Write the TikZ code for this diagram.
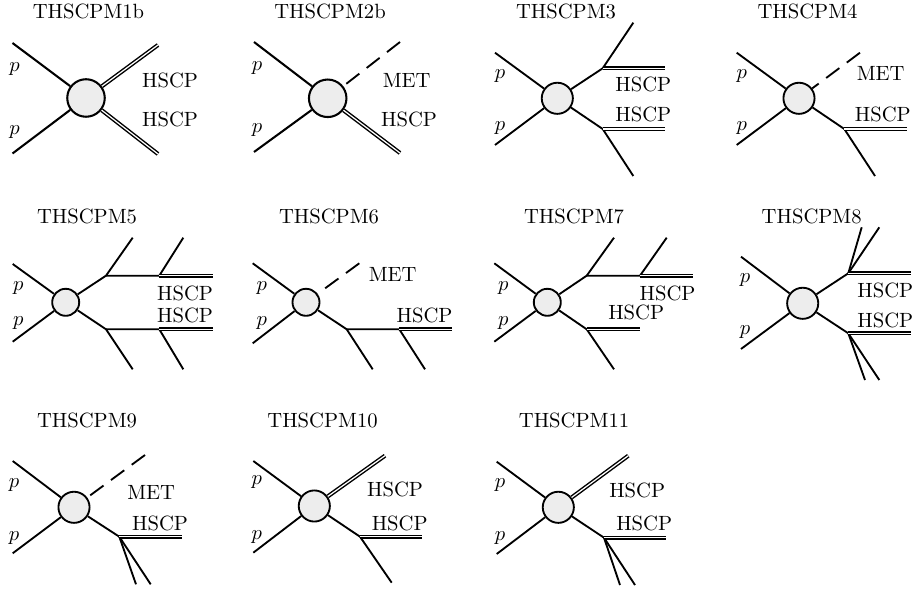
\documentclass[tikz,border=0pt]{standalone}
\begin{document}
\begin{tikzpicture}[x=0.485pt,y=-0.485pt,
  plain/.style={line width=0.9pt},
  dbl/.style={double, line width=0.7pt, double distance=0.6pt},
  met/.style={line width=0.9pt, dash pattern=on 8pt off 4.5pt},
  blob/.style={circle, draw, line width=0.9pt, fill=gray!14, inner sep=0pt},
  blobL/.style={blob, minimum size=18.2pt, line width=1pt},
  blobM/.style={blob, minimum size=15.1pt},
  blobS/.style={blob, minimum size=13.1pt},
  lbl/.style={inner sep=0pt, anchor=center}]
\useasboundingbox (0,0) rectangle (919,594);

% ---------- THSCPM1b
\node[lbl] (t1) at (88.5,11) {THSCPM1b};
\node[blobL] (b1) at (86,98) {};
\coordinate (b1pa) at (12.5,43);
\coordinate (b1pb) at (12.5,153.5);
\coordinate (b1ha) at (158,45);
\coordinate (b1hb) at (158,154);
\draw[plain, line width=1pt] (b1pa) -- (b1);
\draw[plain, line width=1pt] (b1pb) -- (b1);
\draw[dbl] (b1) -- (b1ha);
\draw[dbl] (b1) -- (b1hb);
\node[lbl] (l1a) at (14.5,69) {$p$};
\node[lbl] (l1b) at (14.5,132) {$p$};
\node[lbl] (l1c) at (170,80) {HSCP};
\node[lbl] (l1d) at (170,119) {HSCP};

% ---------- THSCPM2b
\node[lbl] (t2) at (330,11) {THSCPM2b};
\node[blobL] (b2) at (327.7,98.3) {};
\coordinate (b2pa) at (254,42);
\coordinate (b2pb) at (254,152);
\coordinate (b2m) at (400,42);
\coordinate (b2h) at (400,153);
\draw[plain, line width=1pt] (b2pa) -- (b2);
\draw[plain, line width=1pt] (b2pb) -- (b2);
\draw[met] (b2m) -- (b2);
\draw[dbl] (b2) -- (b2h);
\node[lbl] (l2a) at (257,68) {$p$};
\node[lbl] (l2b) at (257,130) {$p$};
\node[lbl] (l2c) at (406.7,80) {MET};
\node[lbl] (l2d) at (409,119) {HSCP};

% ---------- THSCPM3
\node[lbl] (t3) at (566,11) {THSCPM3};
\node[blobM] (b3) at (557.3,98.3) {};
\coordinate (b3pa) at (495,52.7);
\coordinate (b3pb) at (495,145);
\coordinate (b3va) at (602.7,68.3);
\coordinate (b3vb) at (602.7,129);
\coordinate (b3qa) at (633.3,22.7);
\coordinate (b3qb) at (633.3,176);
\coordinate (b3ha) at (665,68.3);
\coordinate (b3hb) at (665,129);
\draw[plain] (b3pa) -- (b3);
\draw[plain] (b3pb) -- (b3);
\draw[plain] (b3) -- (b3va) -- (b3qa);
\draw[plain] (b3) -- (b3vb) -- (b3qb);
\draw[dbl] (b3va) -- (b3ha);
\draw[dbl] (b3vb) -- (b3hb);
\node[lbl] (l3a) at (500,76) {$p$};
\node[lbl] (l3b) at (500,128) {$p$};
\node[lbl] (l3c) at (643.3,84.5) {HSCP};
\node[lbl] (l3d) at (643.3,114.5) {HSCP};

% ---------- THSCPM4
\node[lbl] (t4) at (807.5,11) {THSCPM4};
\node[blobM] (b4) at (799,98.3) {};
\coordinate (b4pa) at (736.7,52.7);
\coordinate (b4pb) at (736.7,145);
\coordinate (b4m) at (860,52.7);
\coordinate (b4vb) at (844.3,129);
\coordinate (b4hb) at (906.7,129);
\coordinate (b4qb) at (875,176);
\draw[plain] (b4pa) -- (b4);
\draw[plain] (b4pb) -- (b4);
\draw[met] (b4m) -- (b4);
\draw[plain] (b4) -- (b4vb) -- (b4qb);
\draw[dbl] (b4vb) -- (b4hb);
\node[lbl] (l4a) at (741.7,76) {$p$};
\node[lbl] (l4b) at (741.7,128) {$p$};
\node[lbl] (l4c) at (880.7,73.8) {MET};
\node[lbl] (l4d) at (882.8,114.5) {HSCP};

% ---------- THSCPM5
\node[lbl] (t5) at (87,216.7) {THSCPM5};
\node[blobS] (b5) at (65.7,302.3) {};
\coordinate (b5pa) at (12.7,264);
\coordinate (b5pb) at (12.7,341.7);
\coordinate (b5va) at (106,275.7);
\coordinate (b5qa) at (132.7,237.7);
\coordinate (b5wa) at (159.3,275.7);
\coordinate (b5ra) at (183.3,237.7);
\coordinate (b5ha) at (212.7,275.7);
\coordinate (b5vb) at (106,329.3);
\coordinate (b5qb) at (132.7,369.3);
\coordinate (b5wb) at (159.3,329.3);
\coordinate (b5rb) at (183.3,369.3);
\coordinate (b5hb) at (212.7,329.3);
\draw[plain] (b5pa) -- (b5);
\draw[plain] (b5pb) -- (b5);
\draw[plain] (b5) -- (b5va) -- (b5qa);
\draw[plain] (b5va) -- (b5wa) -- (b5ra);
\draw[dbl] (b5wa) -- (b5ha);
\draw[plain] (b5) -- (b5vb) -- (b5qb);
\draw[plain] (b5vb) -- (b5wb) -- (b5rb);
\draw[dbl] (b5wb) -- (b5hb);
\node[lbl] (l5a) at (18.3,288.3) {$p$};
\node[lbl] (l5b) at (18.3,323.3) {$p$};
\node[lbl] (l5c) at (185,293.3) {HSCP};
\node[lbl] (l5d) at (185,315.5) {HSCP};

% ---------- THSCPM6
\node[lbl] (t6) at (329,216.7) {THSCPM6};
\node[blobS] (b6) at (306,302.3) {};
\coordinate (b6pa) at (252.7,263.3);
\coordinate (b6pb) at (252.7,343.3);
\coordinate (b6m) at (359.3,263.3);
\coordinate (b6vb) at (346.7,329.3);
\coordinate (b6qb) at (372.7,369.3);
\coordinate (b6wb) at (399.3,329.3);
\coordinate (b6rb) at (425,369.3);
\coordinate (b6hb) at (451.7,329.3);
\draw[plain] (b6pa) -- (b6);
\draw[plain] (b6pb) -- (b6);
\draw[met] (b6m) -- (b6);
\draw[plain] (b6) -- (b6vb) -- (b6qb);
\draw[plain] (b6vb) -- (b6wb) -- (b6rb);
\draw[dbl] (b6wb) -- (b6hb);
\node[lbl] (l6a) at (261.7,288.3) {$p$};
\node[lbl] (l6b) at (261.7,323.3) {$p$};
\node[lbl] (l6c) at (392.7,274.7) {MET};
\node[lbl] (l6d) at (424.5,315.5) {HSCP};

% ---------- THSCPM7
\node[lbl] (t7) at (574,216.7) {THSCPM7};
\node[blobS] (b7) at (547.3,302.3) {};
\coordinate (b7pa) at (494.3,263.3);
\coordinate (b7pb) at (494.3,341.7);
\coordinate (b7va) at (586.7,275.7);
\coordinate (b7qa) at (614,237.7);
\coordinate (b7wa) at (640,275.7);
\coordinate (b7ra) at (666.7,237.7);
\coordinate (b7ha) at (693.3,275.7);
\coordinate (b7vb) at (586.7,329.3);
\coordinate (b7hb) at (640,329.3);
\coordinate (b7qb) at (614,369.3);
\draw[plain] (b7pa) -- (b7);
\draw[plain] (b7pb) -- (b7);
\draw[plain] (b7) -- (b7va) -- (b7qa);
\draw[plain] (b7va) -- (b7wa) -- (b7ra);
\draw[dbl] (b7wa) -- (b7ha);
\draw[plain] (b7) -- (b7vb) -- (b7qb);
\draw[dbl] (b7vb) -- (b7hb);
\node[lbl] (l7a) at (503.3,288.3) {$p$};
\node[lbl] (l7b) at (503.3,323.3) {$p$};
\node[lbl] (l7c) at (667.5,293.8) {HSCP};
\node[lbl] (l7d) at (636.2,312.5) {HSCP};

% ---------- THSCPM8
\node[lbl] (t8) at (811.7,216.7) {THSCPM8};
\node[blobM] (b8) at (802.7,303.3) {};
\coordinate (b8pa) at (741,256.7);
\coordinate (b8pb) at (741,349);
\coordinate (b8va) at (848.3,273.3);
\coordinate (b8qa) at (861.7,227.3);
\coordinate (b8sa) at (879.3,227.3);
\coordinate (b8ha) at (910.7,273.3);
\coordinate (b8vb) at (848.3,333.3);
\coordinate (b8qb) at (865,380);
\coordinate (b8sb) at (879.3,380);
\coordinate (b8hb) at (910.7,333.3);
\draw[plain] (b8pa) -- (b8);
\draw[plain] (b8pb) -- (b8);
\draw[plain] (b8) -- (b8va) -- (b8qa);
\draw[plain] (b8va) -- (b8sa);
\draw[dbl] (b8va) -- (b8ha);
\draw[plain] (b8) -- (b8vb) -- (b8qb);
\draw[plain] (b8vb) -- (b8sb);
\draw[dbl] (b8vb) -- (b8hb);
\node[lbl] (l8a) at (745,280) {$p$};
\node[lbl] (l8b) at (745,331.7) {$p$};
\node[lbl] (l8c) at (885.3,290.5) {HSCP};
\node[lbl] (l8d) at (885.3,320.5) {HSCP};

% ---------- THSCPM9
\node[lbl] (t9) at (87,420) {THSCPM9};
\node[blobM] (b9) at (74,507.3) {};
\coordinate (b9pa) at (12.7,461);
\coordinate (b9pb) at (12.7,553.3);
\coordinate (b9m) at (145,455);
\coordinate (b9vb) at (119.3,536.7);
\coordinate (b9hb) at (181.7,536.7);
\coordinate (b9qb) at (136,584.3);
\coordinate (b9sb) at (150.7,584.3);
\draw[plain] (b9pa) -- (b9);
\draw[plain] (b9pb) -- (b9);
\draw[met] (b9m) -- (b9);
\draw[plain] (b9) -- (b9vb) -- (b9qb);
\draw[plain] (b9vb) -- (b9sb);
\draw[dbl] (b9vb) -- (b9hb);
\node[lbl] (l9a) at (14,485) {$p$};
\node[lbl] (l9b) at (14,538.3) {$p$};
\node[lbl] (l9c) at (151.2,492.2) {MET};
\node[lbl] (l9d) at (160,523.8) {HSCP};

% ---------- THSCPM10
\node[lbl] (t10) at (322.5,420) {THSCPM10};
\node[blobM] (b10) at (314.3,506) {};
\coordinate (b10pa) at (253.3,461);
\coordinate (b10pb) at (253.3,552.7);
\coordinate (b10ha) at (385,455.7);
\coordinate (b10vb) at (360,536.7);
\coordinate (b10hb) at (421.7,536.7);
\coordinate (b10qb) at (391.7,582.7);
\draw[plain] (b10pa) -- (b10);
\draw[plain] (b10pb) -- (b10);
\draw[dbl] (b10) -- (b10ha);
\draw[plain] (b10) -- (b10vb) -- (b10qb);
\draw[dbl] (b10vb) -- (b10hb);
\node[lbl] (l10a) at (256.7,481.7) {$p$};
\node[lbl] (l10b) at (256.7,536.7) {$p$};
\node[lbl] (l10c) at (395,489.7) {HSCP};
\node[lbl] (l10d) at (399.7,523) {HSCP};

% ---------- THSCPM11
\node[lbl] (t11) at (574,420) {THSCPM11};
\node[blobM] (b11) at (558.3,507.3) {};
\coordinate (b11pa) at (496.7,461.7);
\coordinate (b11pb) at (496.7,554);
\coordinate (b11ha) at (628.3,455.7);
\coordinate (b11vb) at (604,537.7);
\coordinate (b11hb) at (666,537.7);
\coordinate (b11qb) at (620,585);
\coordinate (b11sb) at (635,585);
\draw[plain] (b11pa) -- (b11);
\draw[plain] (b11pb) -- (b11);
\draw[dbl] (b11) -- (b11ha);
\draw[plain] (b11) -- (b11vb) -- (b11qb);
\draw[plain] (b11vb) -- (b11sb);
\draw[dbl] (b11vb) -- (b11hb);
\node[lbl] (l11a) at (500,485) {$p$};
\node[lbl] (l11b) at (500,538.3) {$p$};
\node[lbl] (l11c) at (637.2,490.3) {HSCP};
\node[lbl] (l11d) at (644.2,523.8) {HSCP};
\end{tikzpicture}
\end{document}
